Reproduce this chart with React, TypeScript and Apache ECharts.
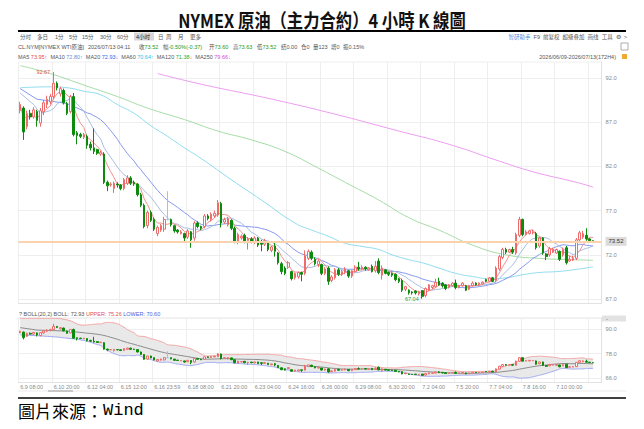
import React, { useEffect, useRef } from 'react';
import * as echarts from 'echarts';

// ---- data (4-hour candles, 172 bars) ----
const opens = [
  88.3, 88.6, 86.5, 88.0, 87.6, 88.2, 86.9, 88.2, 89.0, 89.3,
  89.9, 91.4, 90.2, 90.6, 89.1, 88.2, 89.9, 85.8, 85.6, 85.3,
  85.4, 84.5, 84.1, 83.9, 83.4, 83.4, 80.2, 79.9, 79.5, 80.0,
  79.9, 79.5, 80.1, 80.7, 80.2, 80.0, 78.8, 77.6, 75.3, 76.8,
  76.0, 74.4, 74.8, 74.9, 76.0, 76.0, 75.3, 74.8, 74.4, 74.4,
  74.0, 74.6, 73.9, 75.6, 75.2, 75.2, 76.4, 76.0, 76.4, 76.5,
  77.8, 75.7, 75.4, 75.9, 75.0, 73.4, 73.9, 74.2, 73.6, 73.8,
  73.4, 73.9, 73.5, 73.2, 73.3, 72.5, 73.0, 72.2, 71.0, 70.5,
  70.6, 70.1, 69.4, 69.5, 70.0, 69.9, 71.6, 72.3, 71.5, 70.9,
  70.9, 69.9, 70.5, 69.1, 69.4, 70.3, 69.8, 70.0, 70.2, 69.6,
  70.1, 70.6, 70.4, 70.6, 70.3, 70.7, 70.2, 71.3, 69.7, 70.3,
  70.0, 69.9, 69.8, 69.3, 69.1, 68.1, 68.0, 67.8, 67.9, 67.6,
  67.95, 67.4, 68.0, 68.3, 68.4, 69.0, 68.8, 68.6, 68.3, 68.5,
  68.8, 68.3, 68.5, 68.5, 68.1, 68.5, 68.8, 68.6, 68.7, 69.2,
  69.0, 69.4, 69.1, 70.4, 71.7, 72.6, 72.3, 72.6, 72.2, 74.2,
  76.0, 74.3, 74.4, 74.5, 74.4, 73.0, 73.9, 72.1, 72.0, 72.3,
  72.2, 72.4, 72.0, 72.8, 71.3, 71.4, 71.6, 73.7, 74.0, 74.2,
  73.8, 73.60,
];
const closes = [
  89.0, 85.9, 88.0, 87.6, 88.4, 87.2, 88.3, 89.2, 89.6, 89.9,
  91.4, 90.9, 90.8, 89.2, 88.0, 89.9, 85.6, 85.5, 85.4, 85.6,
  84.4, 84.1, 83.7, 83.5, 83.6, 80.2, 79.8, 80.0, 80.1, 79.9,
  79.5, 80.5, 80.7, 80.1, 80.0, 78.8, 77.6, 75.2, 76.8, 75.9,
  74.9, 75.1, 75.3, 76.0, 76.0, 75.4, 74.7, 74.6, 74.6, 73.9,
  74.7, 73.7, 75.6, 75.2, 75.0, 76.4, 76.1, 76.6, 76.7, 77.9,
  75.6, 76.0, 76.1, 75.0, 73.5, 74.3, 74.1, 73.5, 73.8, 73.5,
  73.9, 73.1, 73.2, 73.6, 72.6, 72.9, 72.4, 71.1, 70.1, 69.9,
  71.1, 69.3, 69.9, 70.0, 69.8, 71.9, 72.4, 71.6, 71.0, 71.3,
  69.9, 70.4, 69.0, 69.5, 70.3, 69.8, 70.1, 70.4, 69.6, 70.2,
  70.6, 70.4, 70.6, 70.4, 70.5, 70.1, 70.7, 70.0, 70.5, 69.9,
  69.8, 69.7, 69.2, 69.0, 68.0, 68.4, 67.7, 67.7, 67.7, 67.8,
  67.3, 68.2, 68.6, 68.5, 68.9, 68.6, 68.5, 68.2, 68.6, 68.8,
  68.3, 68.5, 68.8, 68.0, 68.5, 68.8, 68.6, 68.8, 68.9, 69.0,
  69.4, 69.0, 70.5, 71.8, 72.6, 72.3, 72.6, 72.3, 74.3, 76.0,
  74.3, 74.6, 74.7, 74.6, 72.8, 73.9, 72.2, 71.8, 72.7, 72.6,
  72.6, 71.5, 72.6, 71.1, 71.5, 71.6, 73.7, 74.5, 74.4, 73.8,
  73.6, 73.52,
];
const lows = [
  88.0, 85.0, 86.2, 87.3, 87.4, 86.5, 86.5, 87.8, 88.6, 89.0,
  89.6, 90.6, 89.9, 89.0, 87.8, 88.0, 85.4, 84.5, 85.2, 85.1,
  84.0, 83.8, 83.4, 83.3, 83.2, 80.0, 79.2, 79.7, 79.0, 79.6,
  79.3, 79.3, 79.9, 79.9, 79.8, 78.6, 77.4, 75.0, 75.0, 75.7,
  74.7, 74.1, 74.6, 74.6, 75.9, 75.2, 74.5, 74.4, 74.3, 73.5,
  73.8, 72.8, 73.6, 75.0, 74.8, 75.0, 75.9, 75.8, 76.2, 76.3,
  75.1, 75.5, 75.2, 74.8, 73.3, 73.2, 73.7, 73.3, 72.6, 73.3,
  73.2, 72.9, 72.4, 73.0, 72.4, 72.3, 71.8, 70.9, 69.8, 69.7,
  70.4, 69.1, 69.2, 69.3, 69.0, 69.7, 71.4, 71.4, 70.8, 70.6,
  69.7, 69.7, 68.6, 68.9, 69.2, 69.6, 69.6, 69.8, 69.4, 69.4,
  70.0, 70.2, 70.3, 70.2, 70.2, 70.0, 70.0, 69.8, 69.2, 69.8,
  69.6, 69.5, 69.0, 68.8, 67.8, 67.9, 67.5, 67.5, 67.5, 67.4,
  67.04, 67.2, 67.9, 68.1, 68.3, 68.5, 68.3, 68.0, 68.2, 68.4,
  68.1, 68.2, 68.4, 67.9, 68.0, 68.4, 68.5, 68.5, 68.6, 68.9,
  68.9, 68.9, 68.9, 70.2, 71.5, 72.1, 72.2, 72.1, 72.0, 74.0,
  74.1, 74.2, 74.3, 74.3, 72.6, 72.8, 72.0, 71.4, 71.8, 72.2,
  72.1, 71.3, 71.8, 70.9, 71.2, 71.3, 71.4, 73.5, 73.8, 73.6,
  73.5, 73.52,
];
const highs = [
  89.3, 88.8, 88.3, 88.4, 88.7, 88.4, 88.6, 89.5, 90.0, 90.2,
  92.67, 91.6, 91.0, 90.8, 89.3, 90.1, 90.3, 86.0, 85.8, 85.8,
  85.6, 84.8, 86.3, 84.0, 83.8, 83.6, 80.4, 80.2, 80.3, 80.2,
  80.0, 80.7, 81.0, 80.9, 80.4, 80.1, 79.0, 77.8, 77.0, 77.0,
  76.2, 75.3, 75.5, 76.3, 79.2, 76.1, 75.4, 74.9, 74.8, 74.5,
  74.9, 74.7, 75.8, 75.8, 75.3, 76.6, 76.6, 76.8, 77.0, 78.2,
  78.0, 76.2, 76.3, 76.0, 75.2, 74.5, 74.3, 74.4, 74.0, 74.0,
  74.1, 74.0, 73.7, 73.8, 73.4, 73.0, 73.4, 72.3, 71.2, 70.7,
  71.3, 70.2, 70.0, 70.1, 70.1, 72.5, 72.6, 72.5, 71.7, 71.5,
  71.0, 70.6, 70.7, 69.7, 70.5, 70.5, 70.3, 70.6, 70.3, 70.3,
  70.8, 71.2, 70.8, 70.7, 70.6, 70.9, 71.3, 71.6, 70.8, 70.4,
  70.1, 70.0, 69.9, 69.4, 69.3, 68.5, 68.1, 67.9, 68.0, 67.9,
  68.0, 68.3, 68.7, 68.6, 69.3, 69.4, 68.9, 68.7, 68.7, 68.9,
  69.2, 68.6, 68.9, 68.6, 68.6, 69.0, 68.9, 68.9, 69.0, 69.3,
  69.5, 69.5, 70.7, 72.0, 72.8, 72.8, 72.7, 72.9, 74.5, 76.3,
  76.1, 74.8, 74.8, 74.8, 74.6, 74.0, 74.0, 72.2, 72.9, 72.8,
  72.7, 72.5, 72.8, 73.0, 71.9, 71.9, 73.9, 74.7, 74.7, 75.0,
  73.9, 73.63,
];

// x-axis tick labels, one every 10 bars
const tickLabels = [
  '6.9 08:00', '6.10 20:00', '6.12 04:00', '6.15 12:00', '6.16 23:59', '6.18 08:00',
  '6.21 20:00', '6.23 04:00', '6.24 16:00', '6.26 00:00', '6.29 08:00', '6.30 20:00',
  '7.2 04:00', '7.5 20:00', '7.7 04:00', '7.8 16:00', '7.10 00:00',
];
const priceTicks = [67, 72, 77, 82, 87, 92];
const bollTicks = [66, 78, 90];

const ma10Lead = [[0, 90.3], [4, 89.0], [6, 88.0]];
const ma20Lead = [[0, 90.8], [5, 89.6], [9, 89.4], [14, 89.1]];
const bollUpperLead = [[0, 95.4], [9, 95.4], [14, 94.6]];
const bollLowerLead = [[0, 87.2], [9, 86.4], [14, 85.6]];
// long averages at [bar, value]
const ma60Points = [
  [0, 90.9], [9, 91.0], [14, 90.9], [19, 90.5], [24, 90.1], [29, 89.0], [34, 88.0], [39, 86.6],
  [44, 85.4], [49, 84.1], [54, 82.9], [63, 80.5], [72, 78.2], [82, 75.6], [87, 74.8], [92, 74.1],
  [97, 73.3], [102, 72.95], [107, 72.6], [111, 72.0], [116, 71.45], [120, 71.1], [125, 70.5],
  [130, 69.9], [135, 69.55], [140, 69.3], [145, 69.4], [150, 69.75], [155, 70.0], [160, 70.1],
  [165, 70.3], [171, 70.64],
];
const ma120Points = [
  [0, 93.4], [9, 92.5], [19, 91.2], [29, 89.9], [38, 88.6], [49, 87.3], [59, 86.0], [69, 85.0],
  [79, 83.7], [89, 81.8], [97, 80.2], [107, 78.2], [116, 76.2], [125, 74.8], [135, 73.1],
  [145, 72.0], [155, 71.6], [165, 71.45], [171, 71.38],
];
const ma250Points = [
  [41, 92.5], [54, 91.3], [74, 89.7], [93, 88.0], [113, 86.0], [128, 84.5], [143, 82.6],
  [153, 81.4], [166, 80.2], [171, 79.66],
];
const lastPrice = 73.52;
const highMark = [10, 92.67];
const lowMark = [120, 67.04];

const maLegend = [
  ['MA5', '73.95↑', '#e84a4a'],
  ['MA10', '72.80↑', '#6c8ad2'],
  ['MA20', '72.93↓', '#3f5ef2'],
  ['MA60', '70.64↑', '#30c0e6'],
  ['MA120', '71.38↓', '#2fa82f'],
  ['MA250', '79.66↓', '#d84ad8'],
];

const FONT = '"Liberation Sans", "Noto Sans CJK SC", sans-serif';
const FS = 5.5;

export default function App() {
  const ref = useRef<HTMLDivElement>(null);

  useEffect(() => {
    if (!ref.current) return;
    const chart = echarts.init(ref.current, null, { renderer: 'svg' });
    const N = closes.length;
    const PAD = 2;
    const cats = Array.from({ length: N + PAD }, (_, i) => String(i));
    const candles = closes.map((c, i) => [
      opens[i], c, Math.min(lows[i], opens[i], c), Math.max(highs[i], opens[i], c),
    ]);

    const sma = (n: number, start: number) => {
      const out: number[][] = [];
      for (let i = start; i < N; i++) {
        const w = Math.min(n, i + 1);
        let s = 0;
        for (let k = i - w + 1; k <= i; k++) s += closes[k];
        out.push([i, s / w]);
      }
      return out;
    };
    const ma5 = sma(5, 0);
    const ma10 = [...ma10Lead, ...sma(10, 9)];
    const ma20Calc = sma(20, 19);
    const ma20 = [...ma20Lead, ...ma20Calc];
    const upCalc: number[][] = [];
    const loCalc: number[][] = [];
    ma20Calc.forEach(([i, m]) => {
      let v = 0;
      for (let k = i - 19; k <= i; k++) v += (closes[k] - m) * (closes[k] - m);
      const sd = Math.sqrt(v / 20);
      upCalc.push([i, m + 2 * sd]);
      loCalc.push([i, m - 2 * sd]);
    });
    const bollUpper = [...bollUpperLead, ...upCalc];
    const bollLower = [...bollLowerLead, ...loCalc];
    const bollWidth = bollUpper.map(([i, u], k) => [i, u - bollLower[k][1]]);

    const line = (name: string, data: number[][], color: string, xi: number, smooth: boolean | number, extra: any = {}) => ({
      type: 'line', name, data, xAxisIndex: xi, yAxisIndex: xi, symbol: 'none', showSymbol: false,
      silent: true, smooth, z: 2, lineStyle: { width: 1, color }, ...extra,
    });

    const candleStyle = {
      color: '#ffffff', color0: '#0c8a0c', borderColor: '#ee6c6c', borderColor0: '#0c8a0c',
      borderColorDoji: '#9cc4ea', borderWidth: 1,
    };

    const gText = (x: number, y: number, text: string, style: any = {}, extra: any = {}) => ({
      type: 'text', x, y, z: 10, silent: true, ...extra,
      style: { text, fontSize: FS, fontFamily: FONT, fill: '#555', align: 'left', verticalAlign: 'middle', ...style },
    });

    const toolbar = [
      ['分时', 20], ['多日', 37], ['1分', 55], ['5分', 69], ['15分', 82], ['30分', 100], ['60分', 117],
      ['日', 158], ['周', 166], ['月', 178], ['更多', 190],
    ];
    const green = '#1a9a1a';
    const info: any[] = [
      [18, 'CL.NYM[NYMEX WTI原油]'], [88, '2026/07/13 04:11'],
      [139, '收{g|73.52}'], [163, '幅{g|-0.50%(-0.37)}'], [209, '开{g|73.60}'], [233, '高{g|73.63}'],
      [257, '低{g|73.52}'], [281, '结0.00'], [301, '仓0'], [313, '量123'], [331, '增0'], [343, '振0.15%'],
    ];
    const maRich: any = {};
    maLegend.forEach(([, , c], k) => { maRich['m' + k] = { fill: c, fontSize: FS, fontFamily: FONT }; });
    const maText = maLegend.map(([n, v], k) => `${n} {m${k}|${v}}`).join('  ');

    const graphics: any[] = [
      gText(322, 19, 'NYMEX 原油（主力合約）4 小時 K 線圖', {
        fontSize: 19, fontWeight: 'bold', fontFamily: '"Noto Sans CJK TC", sans-serif', fill: '#111', align: 'center',
      }, { scaleX: 0.86 }),
      { type: 'line', silent: true, shape: { x1: 18, y1: 31, x2: 626, y2: 31 }, style: { stroke: '#000', lineWidth: 2 } },
      ...toolbar.map(([t, x]) => gText(x as number, 36.5, t as string)),
      { type: 'rect', silent: true, shape: { x: 134, y: 32.5, width: 20, height: 8 }, style: { fill: '#d6d6d6' } },
      gText(136, 36.5, '4小时', { fill: '#222' }),
      gText(627, 36.5, '{b|智研助手}  F9  前复权  超级叠加  画线  工具  ⚙  >', {
        align: 'right', rich: { b: { fill: '#4a8fe0', fontSize: FS, fontFamily: FONT } },
      }),
      ...info.map(([x, t]) => gText(x, 46.5, t, { rich: { g: { fill: green, fontSize: FS, fontFamily: FONT } } })),
      gText(18, 56.5, maText, { rich: maRich }),
      gText(616, 56.5, '2026/06/09-2026/07/13(172H4)', { align: 'right' }),
      { type: 'rect', silent: true, shape: { x: 621, y: 43, width: 7, height: 7 }, style: { fill: 'none', stroke: '#999', lineWidth: 0.8 } },
      { type: 'rect', silent: true, shape: { x: 622, y: 54, width: 5, height: 5 }, style: { fill: '#f0a830' } },
      gText(19, 313.5, '? BOLL(20,2) BOLL: 72.93 {u|UPPER: 75.26} {l|LOWER: 70.60}', {
        rich: {
          u: { fill: '#e05555', fontSize: FS, fontFamily: FONT },
          l: { fill: '#4a63e0', fontSize: FS, fontFamily: FONT },
        },
      }),
      { type: 'line', silent: true, shape: { x1: 18.5, y1: 318, x2: 601.5, y2: 318 }, style: { stroke: '#e4e4e4', lineWidth: 1 } },
      { type: 'line', silent: true, shape: { x1: 18.5, y1: 62, x2: 601.5, y2: 62 }, style: { stroke: '#efefef', lineWidth: 1 } },
      { type: 'rect', silent: true, shape: { x: 602, y: 315.5, width: 24, height: 6 }, style: { fill: '#e2e2e2' } },
      gText(606, 318.5, '-', { fill: '#666' }),
      { type: 'rect', silent: true, shape: { x: 18, y: 390.5, width: 608, height: 1 }, style: { fill: '#ececec' } },
      { type: 'rect', silent: true, shape: { x: 48, y: 390, width: 25, height: 2 }, style: { fill: '#c8c8c8' } },
      { type: 'line', silent: true, shape: { x1: 18, y1: 398, x2: 626, y2: 398 }, style: { stroke: '#000', lineWidth: 1.5 } },
      gText(18, 410, '圖片來源：{w|Wind}', {
        fontSize: 17, fontFamily: '"Noto Sans CJK TC", sans-serif', fill: '#000',
        rich: { w: { fontSize: 17, fontFamily: '"Liberation Mono", monospace', fill: '#000' } },
      }),
    ];

    const xAxisBase = (gi: number, showLabels: boolean) => ({
      type: 'category', gridIndex: gi, data: cats, boundaryGap: true,
      axisLine: { show: true, lineStyle: { color: '#e2e2e2' } },
      axisTick: { show: false },
      splitLine: { show: true, interval: 9, lineStyle: { color: '#eeeeee', width: 1 } },
      axisLabel: showLabels ? {
        show: true, interval: 9, align: 'left', margin: 1.5, fontSize: FS, color: '#8a8a8a', fontFamily: FONT,
        formatter: (_v: string, idx: number) => (idx % 10 === 0 && tickLabels[idx / 10]) || '',
      } : { show: false },
    });
    const yAxisBase = (gi: number, min: number, max: number, ticks: number[]) => ({
      type: 'value', gridIndex: gi, position: 'right', min, max, scale: true,
      axisLine: { show: true, lineStyle: { color: '#e2e2e2' } },
      axisTick: { show: false, customValues: ticks },
      splitLine: { show: true, lineStyle: { color: '#eeeeee', width: 1 } },
      axisLabel: {
        show: true, customValues: ticks, margin: 4, fontSize: 5.8, color: '#8a8a8a', fontFamily: FONT,
        formatter: (v: number) => v.toFixed(1),
      },
    });

    const option: any = {
      animation: false,
      backgroundColor: '#ffffff',
      grid: [
        { left: 18.5, width: 583, top: 62, height: 241, containLabel: false },
        { left: 18.5, width: 583, top: 318, height: 64.7, containLabel: false },
      ],
      xAxis: [xAxisBase(0, false), xAxisBase(1, true)],
      yAxis: [yAxisBase(0, 66.55, 93.81, priceTicks), yAxisBase(1, 63.68, 95.54, bollTicks)],
      graphic: graphics,
      series: [
        line('MA250', ma250Points, '#ec9cf0', 0, true),
        line('MA120', ma120Points, '#a6dca6', 0, true),
        line('MA60', ma60Points, '#8fdcef', 0, true),
        line('MA20', ma20, '#8797ee', 0, false),
        line('MA10', ma10, '#a9bde3', 0, false),
        line('MA5', ma5, '#f29090', 0, false),
        {
          type: 'candlestick', name: 'K', data: candles, xAxisIndex: 0, yAxisIndex: 0, barWidth: '62%',
          z: 3, silent: true, itemStyle: candleStyle,
          markLine: {
            silent: true, symbol: 'none', animation: false,
            data: [{ yAxis: lastPrice }],
            lineStyle: { color: '#fbd2ab', width: 2, type: 'solid' },
            label: {
              show: true, position: 'end', distance: 4, formatter: lastPrice.toFixed(2), fontSize: 6,
              color: '#333', backgroundColor: '#dcdcdc', padding: [2, 3, 1, 3], fontFamily: FONT,
            },
          },
          markPoint: {
            silent: true, symbol: 'rect', symbolSize: 1, itemStyle: { color: 'rgba(0,0,0,0)' },
            data: [
              { coord: highMark, label: { show: true, position: 'left', distance: 3, formatter: String(highMark[1]), color: '#e05050', fontSize: FS, fontFamily: FONT } },
              { coord: lowMark, label: { show: true, position: 'left', distance: 3, formatter: String(lowMark[1]), color: '#2f9a2f', fontSize: FS, fontFamily: FONT } },
            ],
          },
        },
        line('BOLL-LOWER', bollLower, '#9ea6f2', 1, true, { stack: 'boll' }),
        line('BOLL-UPPER', bollWidth, '#f2a2a2', 1, true, {
          stack: 'boll', areaStyle: { color: '#e9e9e9', opacity: 1 },
        }),
        line('BOLL', ma20, '#8c8c8c', 1, false),
        {
          type: 'candlestick', name: 'K2', data: candles, xAxisIndex: 1, yAxisIndex: 1, barWidth: '62%',
          z: 3, silent: true, itemStyle: candleStyle,
        },
      ],
    };
    chart.setOption(option);
    return () => chart.dispose();
  }, []);

  return (
    <div
      ref={ref}
      style={{ position: 'absolute', left: 0, top: 0, width: 644, height: 429, background: '#fff' }}
    />
  );
}
